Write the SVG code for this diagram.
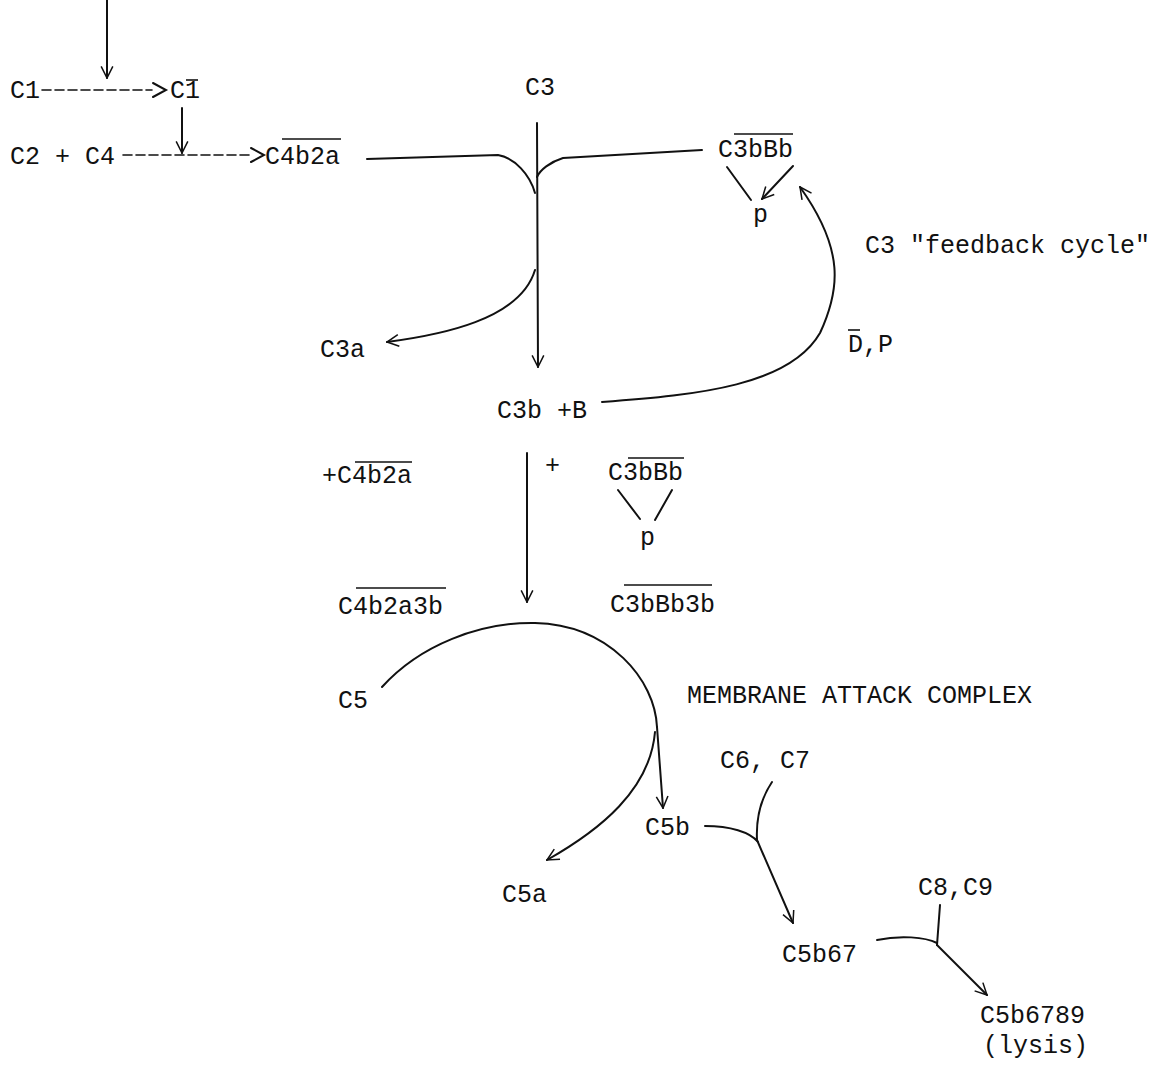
<svg xmlns="http://www.w3.org/2000/svg" width="1173" height="1067" viewBox="0 0 1173 1067">
<style>
text{font-family:"Liberation Mono","Courier New",monospace;font-size:25px;fill:#111;}
.c{fill:none;stroke:#111;stroke-width:2;stroke-linecap:round;}
.a{marker-end:url(#ah);}
.d{stroke-dasharray:9,4;stroke-width:1.6;}
.bar{stroke:#111;stroke-width:1.6;}
</style>
<defs>
<marker id="ah" viewBox="0 0 12 12" refX="11" refY="6" markerWidth="7" markerHeight="7" orient="auto" markerUnits="strokeWidth">
<path d="M1,1 L11,6 L1,11" fill="none" stroke="#111" stroke-width="1.3"/>
</marker>
</defs>
<rect width="1173" height="1067" fill="#fff"/>
<g id="connectors">
<path class="c a" d="M107,0 L107,78"/>
<path class="c d" d="M42,90 L152,90"/>
<path class="c" d="M153,83 L166,90 L153,97"/>
<path class="c a" d="M182,108 L182,153"/>
<path class="c d" d="M123,155 L250,155"/>
<path class="c" d="M251,148 L264,155 L251,162"/>
<path class="c a" d="M537,123 L538,367"/>
<path class="c" d="M367,159 L498,155 C515,158 530,175 535,193"/>
<path class="c" d="M702,150 L563,158 C550,162 540,170 537,177"/>
<path class="c a" d="M535,270 C520,320 440,335 387,342"/>
<path class="c a" d="M602,402 C700,395 790,385 820,333 C840,290 845,250 800,187"/>
<path class="c" d="M727,167 L751,200"/>
<path class="c a" d="M793,166 L762,199"/>
<path class="c a" d="M527,453 L527,602"/>
<path class="c" d="M618,490 L640,519"/>
<path class="c" d="M672,490 L655,520"/>
<path class="c" d="M382,687 C420,645 480,622 535,623 C610,625 655,680 657,727"/>
<path class="c a" d="M657,727 L663,808"/>
<path class="c a" d="M655,732 C650,790 600,830 547,860"/>
<path class="c" d="M705,826 C730,826 750,832 758,842"/>
<path class="c" d="M772,782 C760,800 756,820 757,840"/>
<path class="c a" d="M757,840 L793,923"/>
<path class="c" d="M877,940 C900,935 925,937 937,943"/>
<path class="c" d="M940,905 L937,945"/>
<path class="c a" d="M937,945 L987,995"/>
</g>
<g id="n-c1"><text x="10" y="98">C1</text></g>
<g id="n-c1bar"><text x="170" y="98">C1</text><line class="bar" x1="186" y1="80" x2="198" y2="80"/></g>
<g id="n-c2c4"><text x="10" y="164">C2 + C4</text></g>
<g id="n-c4b2a"><text x="265" y="164">C4b2a</text><line class="bar" x1="282" y1="139" x2="341" y2="139"/></g>
<g id="n-c3"><text x="525" y="95">C3</text></g>
<g id="n-c3bbb1"><text x="718" y="157">C3bBb</text><line class="bar" x1="734" y1="134" x2="793" y2="134"/></g>
<g id="n-p1"><text x="753" y="222">p</text></g>
<g id="n-feedback"><text x="865" y="253">C3 "feedback cycle"</text></g>
<g id="n-dp"><text x="848" y="352">D,P</text><line class="bar" x1="848" y1="330" x2="860" y2="330"/></g>
<g id="n-c3a"><text x="320" y="357">C3a</text></g>
<g id="n-c3bb"><text x="497" y="418">C3b +B</text></g>
<g id="n-pc4b2a"><text x="322" y="483">+C4b2a</text><line class="bar" x1="355" y1="462" x2="412" y2="462"/></g>
<g id="n-plus"><text x="545" y="473">+</text></g>
<g id="n-c3bbb2"><text x="608" y="480">C3bBb</text><line class="bar" x1="628" y1="458" x2="684" y2="458"/></g>
<g id="n-p2"><text x="640" y="545">p</text></g>
<g id="n-c4b2a3b"><text x="338" y="614">C4b2a3b</text><line class="bar" x1="356" y1="588" x2="446" y2="588"/></g>
<g id="n-c3bbb3b"><text x="610" y="612">C3bBb3b</text><line class="bar" x1="624" y1="585" x2="712" y2="585"/></g>
<g id="n-c5"><text x="338" y="708">C5</text></g>
<g id="n-mac"><text x="687" y="703">MEMBRANE ATTACK COMPLEX</text></g>
<g id="n-c5b"><text x="645" y="835">C5b</text></g>
<g id="n-c5a"><text x="502" y="902">C5a</text></g>
<g id="n-c6c7"><text x="720" y="768">C6, C7</text></g>
<g id="n-c5b67"><text x="782" y="962">C5b67</text></g>
<g id="n-c8c9"><text x="918" y="895">C8,C9</text></g>
<g id="n-c5b6789"><text x="980" y="1023">C5b6789</text><text x="983" y="1053">(lysis)</text></g>
</svg>
